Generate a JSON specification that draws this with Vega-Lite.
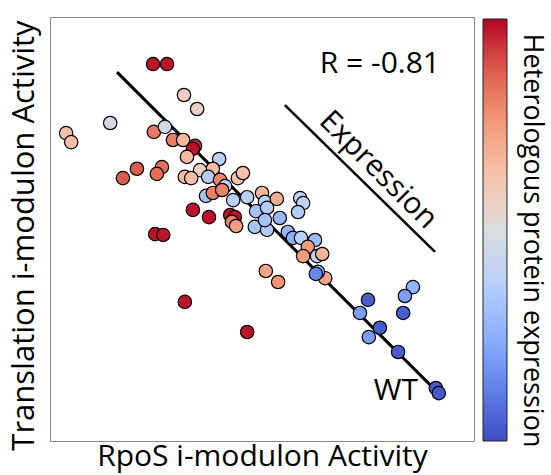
{
  "$schema": "https://vega.github.io/schema/vega-lite/v6.json",
  "width": 424,
  "height": 424,
  "autosize": {"type": "none"},
  "padding": {"left": 50, "top": 17, "right": 77, "bottom": 34},
  "config": {
    "font": "Open Sans",
    "view": {"stroke": "#888", "strokeWidth": 1},
    "axis": {"domain": false, "ticks": false, "labels": false, "grid": false, "titleFontSize": 31, "titleFontWeight": "normal", "titleColor": "#000"}
  },
  "datasets": {
    "pts": [
      {"x": 2.43, "y": 8.89, "v": 0.98},
      {"x": 2.76, "y": 8.89, "v": 0.98},
      {"x": 3.16, "y": 8.16, "v": 0.58},
      {"x": 3.47, "y": 7.83, "v": 0.56},
      {"x": 1.42, "y": 7.50, "v": 0.47},
      {"x": 0.38, "y": 7.26, "v": 0.64},
      {"x": 0.50, "y": 7.05, "v": 0.64},
      {"x": 2.45, "y": 7.29, "v": 0.82},
      {"x": 2.71, "y": 7.41, "v": 0.47},
      {"x": 2.90, "y": 7.10, "v": 0.81},
      {"x": 3.14, "y": 7.10, "v": 0.66},
      {"x": 3.42, "y": 6.96, "v": 0.95},
      {"x": 3.37, "y": 6.89, "v": 0.98},
      {"x": 3.23, "y": 6.70, "v": 0.66},
      {"x": 3.99, "y": 6.65, "v": 0.38},
      {"x": 3.84, "y": 6.42, "v": 0.64},
      {"x": 3.54, "y": 6.39, "v": 0.57},
      {"x": 1.72, "y": 6.20, "v": 0.88},
      {"x": 2.05, "y": 6.42, "v": 0.88},
      {"x": 2.64, "y": 6.46, "v": 0.84},
      {"x": 2.52, "y": 6.30, "v": 0.85},
      {"x": 3.18, "y": 6.23, "v": 0.64},
      {"x": 3.33, "y": 6.20, "v": 0.64},
      {"x": 3.73, "y": 6.23, "v": 0.36},
      {"x": 4.01, "y": 6.16, "v": 0.8},
      {"x": 4.13, "y": 6.01, "v": 0.38},
      {"x": 4.43, "y": 6.20, "v": 0.63},
      {"x": 4.55, "y": 6.32, "v": 0.63},
      {"x": 3.68, "y": 5.78, "v": 0.33},
      {"x": 3.84, "y": 5.85, "v": 0.8},
      {"x": 4.06, "y": 5.92, "v": 0.8},
      {"x": 4.32, "y": 5.68, "v": 0.38},
      {"x": 3.37, "y": 5.45, "v": 0.98},
      {"x": 3.75, "y": 5.28, "v": 0.98},
      {"x": 4.25, "y": 5.33, "v": 0.98},
      {"x": 4.36, "y": 5.28, "v": 0.98},
      {"x": 4.29, "y": 5.17, "v": 0.8},
      {"x": 4.39, "y": 5.07, "v": 0.74},
      {"x": 2.48, "y": 4.88, "v": 0.98},
      {"x": 2.67, "y": 4.86, "v": 0.98},
      {"x": 3.18, "y": 3.28, "v": 0.98},
      {"x": 4.65, "y": 2.57, "v": 0.98},
      {"x": 4.65, "y": 5.75, "v": 0.38},
      {"x": 5.00, "y": 5.85, "v": 0.66},
      {"x": 5.07, "y": 5.64, "v": 0.38},
      {"x": 5.35, "y": 5.71, "v": 0.7},
      {"x": 5.90, "y": 5.73, "v": 0.4},
      {"x": 5.97, "y": 5.61, "v": 0.4},
      {"x": 5.85, "y": 5.40, "v": 0.36},
      {"x": 4.86, "y": 5.42, "v": 0.32},
      {"x": 5.12, "y": 5.50, "v": 0.36},
      {"x": 5.42, "y": 5.26, "v": 0.28},
      {"x": 4.83, "y": 5.05, "v": 0.33},
      {"x": 5.12, "y": 4.98, "v": 0.35},
      {"x": 5.07, "y": 5.21, "v": 0.33},
      {"x": 5.61, "y": 4.93, "v": 0.27},
      {"x": 5.73, "y": 4.79, "v": 0.25},
      {"x": 5.92, "y": 4.79, "v": 0.38},
      {"x": 6.25, "y": 4.74, "v": 0.3},
      {"x": 6.08, "y": 4.58, "v": 0.75},
      {"x": 5.97, "y": 4.36, "v": 0.74},
      {"x": 6.30, "y": 4.36, "v": 0.4},
      {"x": 6.42, "y": 4.41, "v": 0.68},
      {"x": 6.49, "y": 3.84, "v": 0.72},
      {"x": 6.32, "y": 3.99, "v": 0.25},
      {"x": 6.27, "y": 3.94, "v": 0.14},
      {"x": 5.09, "y": 4.01, "v": 0.72},
      {"x": 5.38, "y": 3.75, "v": 0.76},
      {"x": 7.50, "y": 3.33, "v": 0.04},
      {"x": 7.31, "y": 3.02, "v": 0.2},
      {"x": 7.78, "y": 2.67, "v": 0.04},
      {"x": 7.52, "y": 2.45, "v": 0.2},
      {"x": 8.21, "y": 2.10, "v": 0.04},
      {"x": 8.56, "y": 3.63, "v": 0.26},
      {"x": 8.37, "y": 3.42, "v": 0.2},
      {"x": 8.33, "y": 3.02, "v": 0.04},
      {"x": 9.10, "y": 1.25, "v": 0.03},
      {"x": 9.17, "y": 1.13, "v": 0.03}
    ],
    "reg": [
      {"x": 1.58, "y": 8.70},
      {"x": 9.13, "y": 1.16}
    ],
    "arrow": [
      {"x": 5.54, "y": 7.92},
      {"x": 9.08, "y": 4.46}
    ],
    "labels": [
      {"x": 7.78, "y": 8.68, "t": "R = -0.81"},
      {"x": 8.16, "y": 0.97, "t": "WT"}
    ],
    "rot": [
      {"x": 7.74, "y": 6.39, "t": "Expression"}
    ]
  },
  "resolve": {"axis": {"y": "independent"}},
  "layer": [
    {
      "data": {"name": "reg"},
      "mark": {"type": "line", "color": "#000", "strokeWidth": 3},
      "encoding": {
        "x": {"field": "x", "type": "quantitative", "scale": {"domain": [0, 10]}, "axis": {"orient": "bottom", "title": "RpoS i-modulon Activity", "titlePadding": 0, "titleFontSize": 30}},
        "y": {"field": "y", "type": "quantitative", "scale": {"domain": [0, 10]}, "axis": {"orient": "right", "title": "Heterologous protein expression", "titlePadding": 43, "titleFontSize": 27, "titleY": 223}}
      }
    },
    {
      "data": {"name": "arrow"},
      "mark": {"type": "line", "color": "#000", "strokeWidth": 2.5},
      "encoding": {
        "x": {"field": "x", "type": "quantitative", "axis": {"orient": "bottom", "title": "RpoS i-modulon Activity", "titlePadding": 0, "titleFontSize": 30}},
        "y": {"field": "y", "type": "quantitative", "axis": null}
      }
    },
    {
      "data": {"name": "pts"},
      "mark": {"type": "circle", "size": 180, "opacity": 1, "stroke": "#000", "strokeWidth": 1.2},
      "encoding": {
        "x": {"field": "x", "type": "quantitative", "axis": {"orient": "bottom", "title": "RpoS i-modulon Activity", "titlePadding": 0, "titleFontSize": 30}},
        "y": {"field": "y", "type": "quantitative", "axis": {"orient": "left", "title": "Translation i-modulon Activity", "titlePadding": 10, "titleY": 218}},
        "color": {
          "field": "v", "type": "quantitative",
          "scale": {"domain": [0, 0.125, 0.25, 0.375, 0.5, 0.625, 0.75, 0.875, 1], "range": ["#3b4cc0", "#6282ea", "#8db0fe", "#b8d0f9", "#dddddd", "#f5c4ad", "#f49a7b", "#de604d", "#b40426"], "interpolate": "rgb"},
          "legend": {"orient": "none", "legendX": 433, "legendY": 2, "title": null, "direction": "vertical", "gradientLength": 422, "gradientThickness": 24, "gradientStrokeColor": "#222", "gradientStrokeWidth": 1, "values": [], "padding": 0}
        }
      }
    },
    {
      "data": {"name": "labels"},
      "mark": {"type": "text", "fontSize": 30, "align": "center", "baseline": "alphabetic", "color": "#000"},
      "encoding": {
        "x": {"field": "x", "type": "quantitative", "axis": {"orient": "bottom", "title": "RpoS i-modulon Activity", "titlePadding": 0, "titleFontSize": 30}},
        "y": {"field": "y", "type": "quantitative", "axis": null},
        "text": {"field": "t"}
      }
    },
    {
      "data": {"name": "rot"},
      "mark": {"type": "text", "fontSize": 30, "align": "center", "baseline": "middle", "angle": 45, "color": "#000"},
      "encoding": {
        "x": {"field": "x", "type": "quantitative", "axis": {"orient": "bottom", "title": "RpoS i-modulon Activity", "titlePadding": 0, "titleFontSize": 30}},
        "y": {"field": "y", "type": "quantitative", "axis": null},
        "text": {"field": "t"}
      }
    }
  ]
}
